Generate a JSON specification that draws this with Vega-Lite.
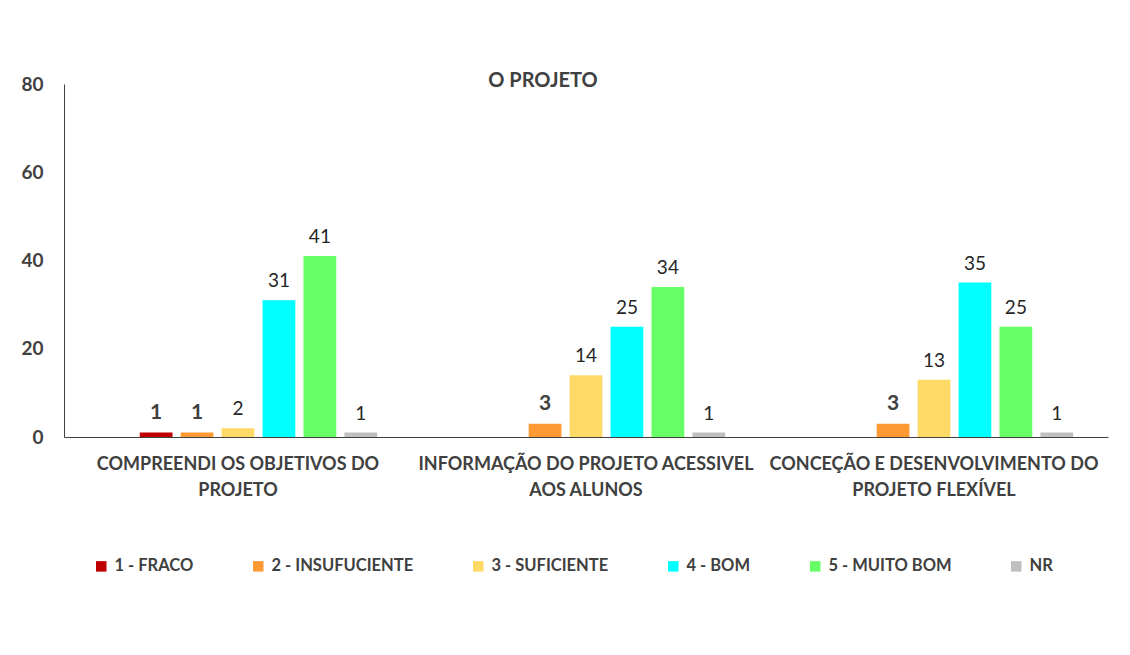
{
  "$schema": "https://vega.github.io/schema/vega-lite/v6.json",
  "width": 1044,
  "height": 353,
  "autosize": {"type": "none"},
  "padding": {"left": 64, "top": 84, "right": 22, "bottom": 218},
  "background": "white",
  "config": {
    "font": "Lato",
    "view": {"stroke": null},
    "axis": {"grid": false, "ticks": false, "domainColor": "#404040", "labelColor": "#404040", "labelFont": "Lato", "labelFontWeight": "bold"}
  },
  "title": {
    "text": "O PROJETO",
    "font": "Lato",
    "fontSize": 20,
    "fontWeight": "bold",
    "color": "#404040",
    "anchor": "middle",
    "dx": -43,
    "dy": 20
  },
  "data": {
    "values": [
      {"q": "COMPREENDI OS OBJETIVOS DO PROJETO", "s": "1 - FRACO", "v": 1},
      {"q": "COMPREENDI OS OBJETIVOS DO PROJETO", "s": "2 - INSUFUCIENTE", "v": 1},
      {"q": "COMPREENDI OS OBJETIVOS DO PROJETO", "s": "3 - SUFICIENTE", "v": 2},
      {"q": "COMPREENDI OS OBJETIVOS DO PROJETO", "s": "4 - BOM", "v": 31},
      {"q": "COMPREENDI OS OBJETIVOS DO PROJETO", "s": "5 - MUITO BOM", "v": 41},
      {"q": "COMPREENDI OS OBJETIVOS DO PROJETO", "s": "NR", "v": 1},
      {"q": "INFORMAÇÃO DO PROJETO ACESSIVEL AOS ALUNOS", "s": "2 - INSUFUCIENTE", "v": 3},
      {"q": "INFORMAÇÃO DO PROJETO ACESSIVEL AOS ALUNOS", "s": "3 - SUFICIENTE", "v": 14},
      {"q": "INFORMAÇÃO DO PROJETO ACESSIVEL AOS ALUNOS", "s": "4 - BOM", "v": 25},
      {"q": "INFORMAÇÃO DO PROJETO ACESSIVEL AOS ALUNOS", "s": "5 - MUITO BOM", "v": 34},
      {"q": "INFORMAÇÃO DO PROJETO ACESSIVEL AOS ALUNOS", "s": "NR", "v": 1},
      {"q": "CONCEÇÃO E DESENVOLVIMENTO DO PROJETO FLEXÍVEL", "s": "2 - INSUFUCIENTE", "v": 3},
      {"q": "CONCEÇÃO E DESENVOLVIMENTO DO PROJETO FLEXÍVEL", "s": "3 - SUFICIENTE", "v": 13},
      {"q": "CONCEÇÃO E DESENVOLVIMENTO DO PROJETO FLEXÍVEL", "s": "4 - BOM", "v": 35},
      {"q": "CONCEÇÃO E DESENVOLVIMENTO DO PROJETO FLEXÍVEL", "s": "5 - MUITO BOM", "v": 25},
      {"q": "CONCEÇÃO E DESENVOLVIMENTO DO PROJETO FLEXÍVEL", "s": "NR", "v": 1}
    ]
  },
  "encoding": {
    "x": {
      "field": "q",
      "type": "nominal",
      "sort": null,
      "scale": {"paddingInner": 0, "paddingOuter": 0},
      "axis": {
        "title": null,
        "labelAngle": 0,
        "labelFontSize": 18,
        "labelLimit": 400,
        "labelPadding": 18,
        "labelLineHeight": 26,
        "labelBaseline": "top",
        "labelExpr": "datum.value == 'COMPREENDI OS OBJETIVOS DO PROJETO' ? ['COMPREENDI OS OBJETIVOS DO', 'PROJETO'] : datum.value == 'INFORMAÇÃO DO PROJETO ACESSIVEL AOS ALUNOS' ? ['INFORMAÇÃO DO PROJETO ACESSIVEL', 'AOS ALUNOS'] : ['CONCEÇÃO E DESENVOLVIMENTO DO', 'PROJETO FLEXÍVEL']"
      }
    },
    "xOffset": {
      "field": "s",
      "type": "nominal",
      "scale": {"domain": ["_", "1 - FRACO", "2 - INSUFUCIENTE", "3 - SUFICIENTE", "4 - BOM", "5 - MUITO BOM", "NR"], "paddingInner": 0.2, "paddingOuter": 0.85}
    },
    "y": {
      "field": "v",
      "type": "quantitative",
      "scale": {"domain": [0, 80]},
      "axis": {"title": null, "values": [0, 20, 40, 60, 80], "labelFontSize": 19, "labelPadding": 21}
    }
  },
  "layer": [
    {
      "mark": {"type": "bar"},
      "encoding": {
        "color": {
          "field": "s",
          "type": "nominal",
          "scale": {
            "domain": ["1 - FRACO", "2 - INSUFUCIENTE", "3 - SUFICIENTE", "4 - BOM", "5 - MUITO BOM", "NR"],
            "range": ["#C00000", "#FF9933", "#FFD966", "#00FFFF", "#66FF66", "#BFBFBF"]
          },
          "legend": {
            "title": null,
            "orient": "none",
            "direction": "horizontal",
            "legendX": 29,
            "legendY": 474,
            "padding": 0,
            "symbolType": "square",
            "symbolSize": 110,
            "symbolStrokeWidth": 0,
            "labelFont": "Lato",
            "labelFontSize": 16.5,
            "labelFontWeight": "bold",
            "labelColor": "#404040",
            "labelOffset": 5,
            "columnPadding": 56
          }
        }
      }
    },
    {
      "transform": [{"filter": "datum.s == '1 - FRACO' || datum.s == '2 - INSUFUCIENTE'"}],
      "mark": {"type": "text", "baseline": "alphabetic", "dy": -14, "fontSize": 21, "fontWeight": "bold", "color": "#404040"},
      "encoding": {"text": {"field": "v", "type": "quantitative"}}
    },
    {
      "transform": [{"filter": "datum.s != '1 - FRACO' && datum.s != '2 - INSUFUCIENTE'"}],
      "mark": {"type": "text", "baseline": "alphabetic", "dy": -13, "fontSize": 19, "color": "#262626"},
      "encoding": {"text": {"field": "v", "type": "quantitative"}}
    }
  ]
}
